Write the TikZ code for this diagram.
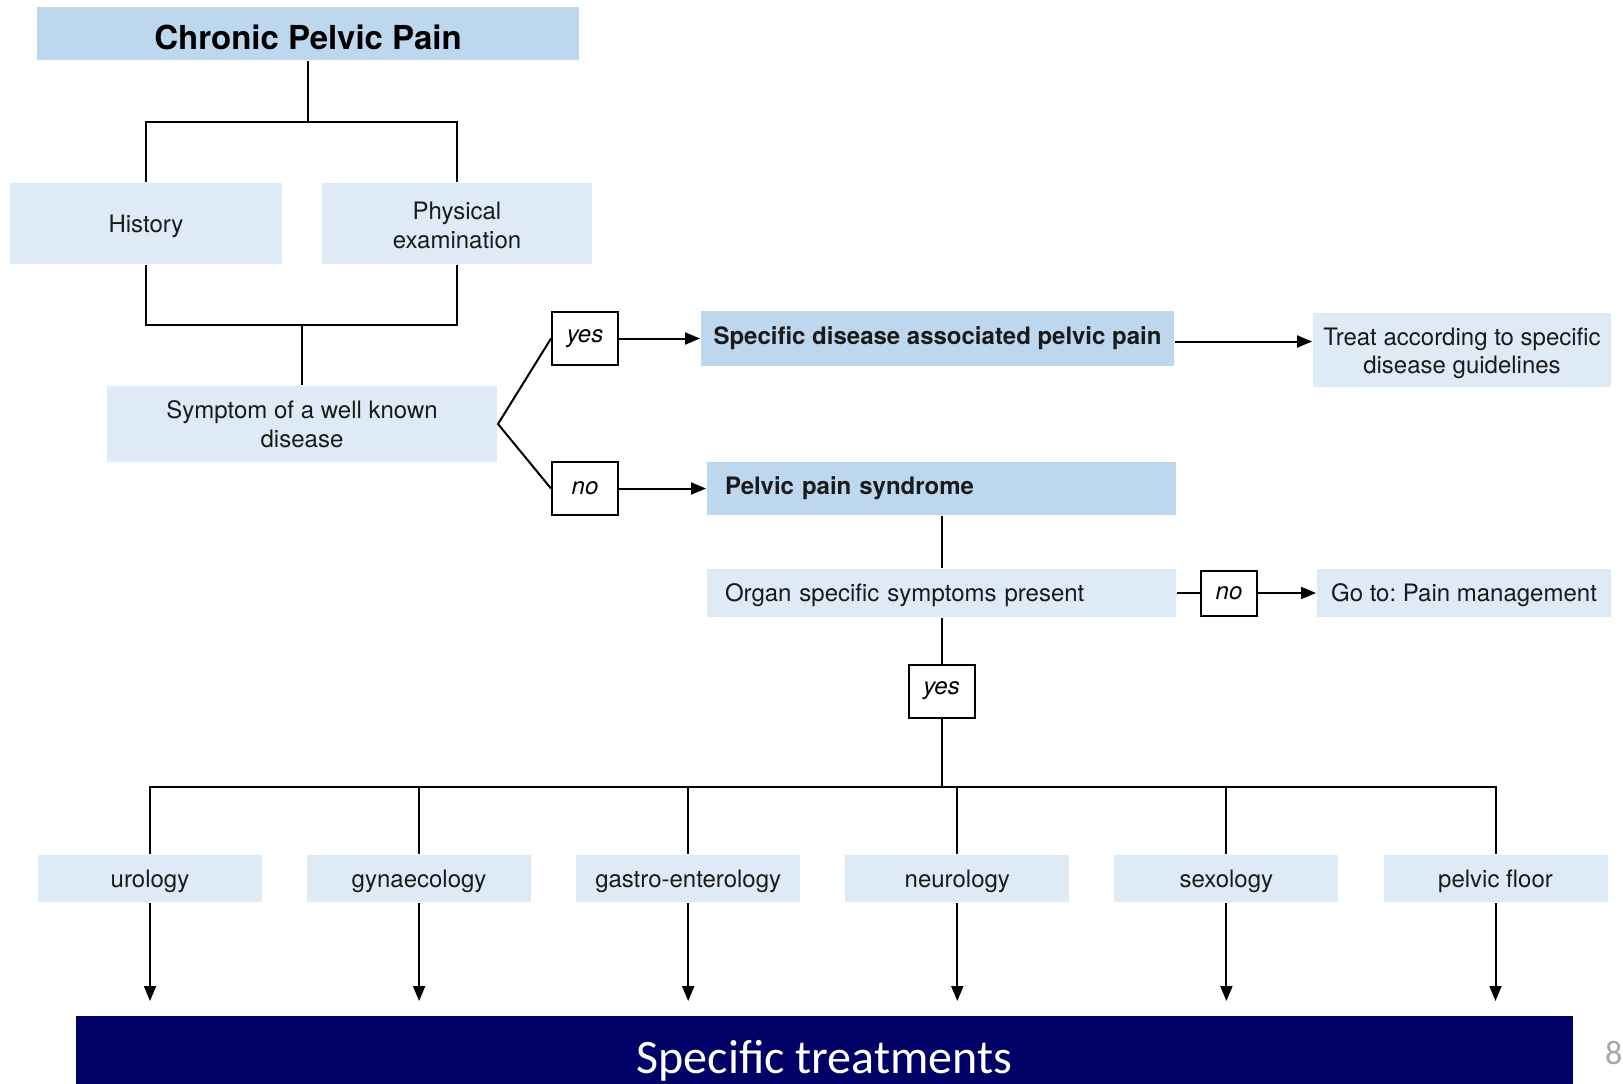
\documentclass[tikz,border=0pt]{standalone}
\usepackage{fontspec}
\setmainfont{TeX Gyre Heros}
\newfontfamily\barfont{Carlito}
\usetikzlibrary{arrows.meta}
\definecolor{boxblue}{HTML}{DEEAF6}
\definecolor{headblue}{HTML}{BDD7EE}
\definecolor{barnavy}{HTML}{000066}
\definecolor{inkgrey}{HTML}{1A1A1A}
\frenchspacing
\begin{document}
\begin{tikzpicture}[x=1pt, y=-1pt, line width=2pt,
    box/.style = {fill=boxblue, text=inkgrey, inner sep=0pt, align=center,
                  font=\fontsize{24}{28.5}\selectfont},
    single/.style = {text height=17.5pt, text depth=0pt},
    head/.style = {box, fill=headblue, font=\bfseries\fontsize{24}{28.5}\selectfont},
    leftbox/.style = {inner xsep=18pt, text width=433pt, align=left},
    answer/.style = {draw, fill=white, inner sep=0pt, minimum width=66pt,
                     minimum height=53pt, font=\itshape\fontsize{24}{28.5}\selectfont},
    spec/.style = {box, single, minimum width=224pt, minimum height=47pt},
    arr/.style = {-{Triangle[length=15pt,width=12pt]}}]
    \useasboundingbox (0,0) rectangle (1623,1084);
    \node[head, minimum width=542pt, minimum height=53pt, text height=32pt, text depth=0pt,
          font=\bfseries\fontsize{33}{38}\selectfont, text=black] (1) at (308,33.5) {Chronic Pelvic Pain};
    \node[box, single, minimum width=272pt, minimum height=81pt] (2) at (146,223.5) {History};
    \node[box, text height=50pt, minimum width=270pt, minimum height=81pt] (3) at (457,223.5) {Physical\\examination};
    \node[box, minimum width=390pt, minimum height=76pt] (4) at (302,424) {Symptom of a well known\\disease};
    \node[answer] (5) at (585,338.5) {yes};
    \node[answer] (6) at (585,488.5) {no};
    \node[head, minimum width=473pt, minimum height=55pt] (7) at (937.5,338.5) {Specific disease associated pelvic pain};
    \node[head, leftbox, minimum height=53pt] (8) at (941.5,488.5) {Pelvic pain syndrome};
    \node[box, text height=53pt, minimum width=298pt, minimum height=74pt] (9) at (1462,350) {Treat according to specific\\disease guidelines};
    \node[box, single, leftbox, minimum height=48pt] (10) at (941.5,593) {Organ specific symptoms present};
    \node[answer, minimum width=56pt, minimum height=45pt] (11) at (1229,593) {no};
    \node[box, single, minimum width=294pt, minimum height=48pt] (12) at (1464,593) {Go to: Pain management};
    \node[answer] (13) at (941.5,691) {yes};
    \foreach \name [count=\i from 14] in {urology, gynaecology, gastro-enterology, neurology, sexology, pelvic floor}
        \node[spec] (\i) at ({150+269.1*(\i-14)},878.5) {\name};
    \node[fill=barnavy, text=white, inner sep=0pt, minimum width=1497pt, minimum height=68pt,
          text height=57pt, text depth=11pt, font=\barfont\fontsize{48}{56}\selectfont] (20) at (824.5,1050) {Specific treatments};
    \node[anchor=base west, inner sep=0pt, text=gray!70, font=\barfont\fontsize{34}{40}\selectfont] (21) at (1604,1064) {8};
    % joints of the tree
    \coordinate (j1) at (308,122);
    \coordinate (j2) at (302,325);
    \coordinate (j3) at (941.5,787);
    \draw (1) -- (j1);
    \draw (2) |- (j1) -| (3);
    \draw (2) |- (j2) -| (3);
    \draw (j2) -- (4);
    \draw (5.west) -- (4.east) -- (6.west);
    \draw[arr] (5) -- (7);
    \draw[arr] (6) -- (8);
    \draw[arr] ([yshift=-3pt]7.east) -- ([yshift=-3pt]7.east -| 9.west);
    \draw (8) -- (10);
    \draw (10) -- (11);
    \draw[arr] (11) -- (12);
    \draw (10) -- (13);
    \draw (13) -- (j3);
    \foreach \i in {14,...,19} {
        \draw (\i) |- (j3);
        \draw[arr, shorten >=14pt] (\i) -- (\i |- 20.north);
    }
\end{tikzpicture}
\end{document}
